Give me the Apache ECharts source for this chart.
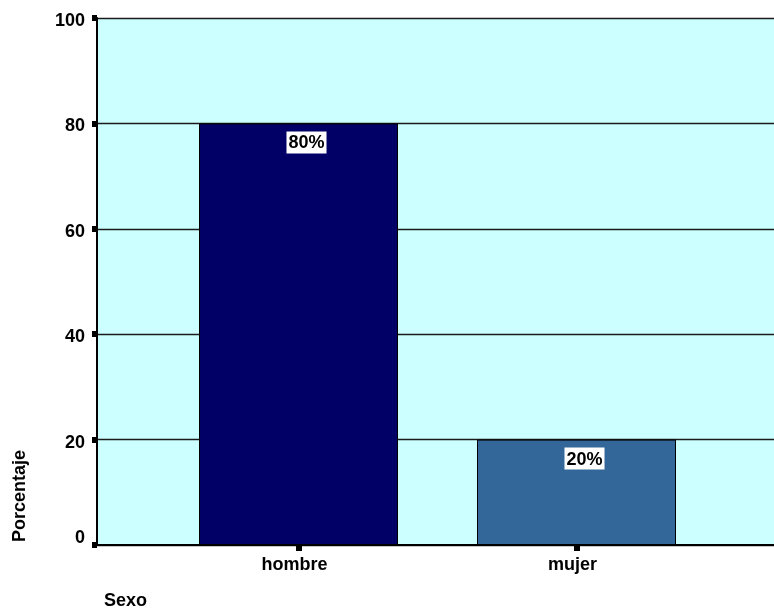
<!DOCTYPE html>
<html>
<head>
<meta charset="utf-8">
<script src="https://cdn.jsdelivr.net/npm/echarts@6/dist/echarts.min.js"></script>
<style>
  html, body { margin: 0; padding: 0; background: #ffffff; }
  #chart { width: 774px; height: 610px; }
</style>
</head>
<body>
<div id="chart"></div>
<script>
// Porcentaje por sexo
const categories = ['hombre', 'mujer'];
const percentages = [80, 20];
const barColors = ['#000066', '#336699'];
const yTicks = [0, 20, 40, 60, 80, 100];

const FONT = '"Liberation Sans", Arial, sans-serif';
const labelText = { color: '#000', fontFamily: FONT, fontWeight: 'bold', fontSize: 18 };

const chart = echarts.init(document.getElementById('chart'), null, { renderer: 'canvas' });

const option = {
  animation: false,
  grid: [
    // frame: background, value axis and gridlines
    { left: 97, right: 0, top: 18, bottom: 65, show: true, backgroundColor: '#ccffff', borderWidth: 0 },
    // bars
    { left: 159.5, width: 556, top: 18, bottom: 65 }
  ],
  xAxis: [
    {
      gridIndex: 0, type: 'value', min: 0, max: 1,
      axisLine: { show: true, lineStyle: { color: '#000', width: 2 } },
      axisTick: { show: false }, axisLabel: { show: false }, splitLine: { show: false }
    },
    {
      gridIndex: 1, type: 'category', data: categories,
      axisLine: { show: false },
      axisTick: { show: true, alignWithLabel: true, length: 6, lineStyle: { color: '#000', width: 6 } },
      axisLabel: {
        margin: 11,
        formatter: v => '{c|' + v + '}',
        rich: { c: Object.assign({ padding: [0, 8, 0, 0] }, labelText) }
      }
    }
  ],
  yAxis: [
    {
      gridIndex: 0, type: 'value', min: yTicks[0], max: yTicks[yTicks.length - 1], interval: 20,
      axisLine: { show: true, lineStyle: { color: '#000', width: 2 } },
      axisTick: { show: true, length: 5, lineStyle: { color: '#000', width: 6 } },
      axisLabel: {
        margin: 12,
        formatter: v => (v === 0 ? '{z|' : '{n|') + v + '}',
        rich: {
          n: Object.assign({ padding: [6, 0, 0, 0] }, labelText),
          z: Object.assign({ padding: [0, 0, 13, 0] }, labelText)
        }
      },
      splitLine: { show: true, lineStyle: { color: '#1a1a1a', width: 1.3 } }
    },
    {
      gridIndex: 1, type: 'value', min: 0, max: 100, show: false
    }
  ],
  series: [
    {
      type: 'bar',
      xAxisIndex: 1, yAxisIndex: 1,
      barWidth: 199,
      data: percentages.map((v, i) => ({ value: v, itemStyle: { color: barColors[i] } })),
      itemStyle: { borderColor: '#000', borderWidth: 1 },
      label: {
        show: true,
        position: 'insideTop',
        distance: 8,
        offset: [8, 0],
        formatter: p => p.value + '%',
        color: '#000',
        backgroundColor: '#fff',
        padding: [3, 2, 1, 2],
        fontFamily: FONT, fontWeight: 'bold', fontSize: 18
      }
    }
  ],
  graphic: [
    {
      type: 'text', left: 11, top: 450, rotation: Math.PI / 2,
      style: { text: 'Porcentaje', fill: '#000', font: 'bold 18px ' + FONT }
    },
    {
      type: 'text', left: 104, top: 592,
      style: { text: 'Sexo', fill: '#000', font: 'bold 18px ' + FONT }
    }
  ]
};

chart.setOption(option);
</script>
</body>
</html>
